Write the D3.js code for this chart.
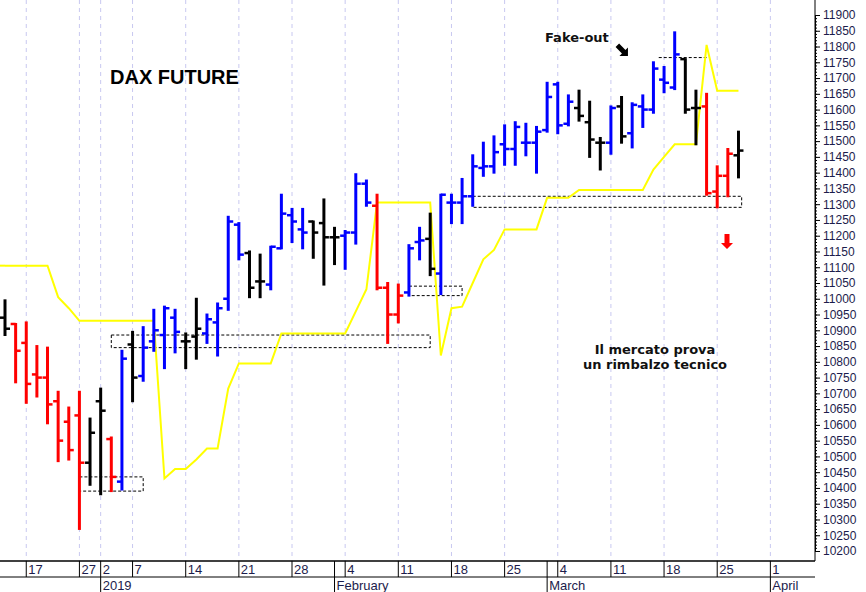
<!DOCTYPE html>
<html><head><meta charset="utf-8">
<script src="https://cdn.jsdelivr.net/npm/d3@7"></script>
<style>body{margin:0;background:#fff}svg{display:block}</style>
</head><body><svg id="c" width="866" height="592"></svg>
<script>
// OHLC data, one entry per trading day (index 0 = 13 Dec 2018)
const opens  = [10940,10920,10860,10760,10750,10675,10610,10630,10480,10675,10555,10420,10855,10755,10865,10885,10940,10865,10880,10890,10925,11000,11235,11145,11055,11045,11160,11265,11220,11245,11240,11195,11200,11210,11365,11295,11035,10950,11020,11180,11190,11080,11305,11305,11325,11415,11420,11490,11475,11495,11495,11535,11680,11555,11605,11560,11495,11495,11610,11525,11610,11600,11695,11670,11760,11605,11610,11340,11390,11455];
const highs  = [10995,10920,10925,10850,10845,10705,10655,10705,10620,10715,10560,10835,10895,10910,10965,10975,10965,10890,11000,10950,10985,11260,11240,11150,11140,11165,11330,11285,11285,11245,11315,11225,11215,11395,11375,11330,11050,11045,11170,11225,11270,11330,11330,11380,11455,11495,11515,11550,11560,11555,11545,11685,11685,11645,11660,11625,11510,11610,11640,11620,11645,11750,11735,11845,11760,11660,11650,11420,11475,11530];
const lows   = [10885,10735,10670,10690,10605,10485,10490,10270,10410,10380,10390,10395,10675,10740,10835,10780,10830,10780,10810,10860,10820,10965,11125,11005,11005,11030,11160,11180,11160,11130,11045,11110,11095,11175,11295,11030,10860,10925,11010,11125,11075,11015,11240,11240,11295,11390,11400,11425,11425,11455,11400,11530,11525,11550,11565,11450,11410,11460,11495,11480,11545,11590,11655,11665,11590,11490,11330,11290,11325,11385];
const closes = [10905,10835,10730,10750,10665,10550,10520,10480,10575,10645,10435,10810,10750,10845,10900,10970,10895,10865,10905,10935,10970,11245,11140,11035,11055,11165,11270,11245,11210,11210,11195,11195,11210,11365,11305,11035,10950,11010,11160,11185,11095,11330,11305,11325,11420,11420,11465,11475,11545,11495,11530,11640,11550,11625,11580,11505,11495,11605,11515,11615,11600,11730,11685,11775,11600,11605,11335,11390,11460,11470];
const barColors = "krrrrrrrkkrbkbbbbkkbbbbkkbbbbkkkbbbrrrbbkbbbbbbbbbbbbbkkkbkbbbbbkkrrrk";
// yellow trailing line, one value per trading day
const yellow = [11105,11105,11105,11105,11105,11005,10970,10930,10930,10930,10930,10930,10930,10930,10930,10430,10460,10460,10490,10525,10525,10715,10795,10795,10795,10795,10890,10890,10890,10890,10890,10890,10890,10960,11030,11305,11305,11305,11305,11305,11305,10820,10970,10975,11050,11125,11155,11220,11220,11220,11220,11320,11320,11320,11345,11345,11345,11345,11345,11345,11345,11410,11450,11490,11490,11490,11805,11660,11660,11660];
// date axis ticks [trading-day index, label]
const dayTicks = [[2,"17"],[7,"27"],[9,"2"],[12,"7"],[17,"14"],[22,"21"],[27,"28"],[32,"4"],[37,"11"],[42,"18"],[47,"25"],[52,"4"],[57,"11"],[62,"18"],[67,"25"],[72,"1"]];
const monthTicks = [[9,"2019"],[31,"February"],[51,"March"],[72,"April"]];
// dashed boxes [startIdx, endIdx, top, bottom]
const boxes = [[7,13,10435,10390],[10,40,10885,10845],[38,43,11040,11010],[44,69.3,11325,11290]];
const fakeLine = [61.5,66,11765];
const priceTicks = d3.range(10200, 11901, 50);

const svg = d3.select("#c");
const W = 866, plotR = 815, plotB = 561;
const x = d3.scaleLinear().domain([0,72]).range([5, 5+72*10.63]);
const y = d3.scaleLinear().domain([10200,11900]).range([551,15]);
const colMap = {k:"#000", r:"#ff0000", b:"#0000ff"};

// gridlines
svg.append("g").selectAll("line").data(dayTicks).join("line")
  .attr("x1",d=>x(d[0])).attr("x2",d=>x(d[0])).attr("y1",0).attr("y2",plotB)
  .attr("stroke","#c8c8f0").attr("stroke-dasharray","4,4").attr("stroke-width",1);

// boxes
svg.append("g").selectAll("rect").data(boxes).join("rect")
  .attr("x",d=>x(d[0])).attr("width",d=>x(d[1])-x(d[0]))
  .attr("y",d=>y(d[2])).attr("height",d=>y(d[3])-y(d[2]))
  .attr("fill","none").attr("stroke","#000").attr("stroke-dasharray","3,2").attr("stroke-width",1);
svg.append("line").attr("x1",x(fakeLine[0])).attr("x2",x(fakeLine[1])).attr("y1",y(fakeLine[2])).attr("y2",y(fakeLine[2]))
  .attr("stroke","#000").attr("stroke-dasharray","3,2");

// yellow line
const ydata = yellow.map((v,i)=>[i,v]);
svg.append("path").datum(ydata)
  .attr("d", d3.line().x(d=>x(d[0])).y(d=>y(d[1])))
  .attr("fill","none").attr("stroke","#ffff00").attr("stroke-width",2);
// yellow leading flat segment to left edge
svg.append("line").attr("x1",0).attr("x2",x(0)).attr("y1",y(yellow[0])).attr("y2",y(yellow[0]))
  .attr("stroke","#ffff00").attr("stroke-width",2);

// OHLC bars
const bars = svg.append("g");
opens.forEach((o,i)=>{
  const c = colMap[barColors[i]], cx = x(i);
  const g = bars.append("g").attr("stroke",c).attr("stroke-width",3);
  g.append("line").attr("x1",cx).attr("x2",cx).attr("y1",y(highs[i])-1).attr("y2",y(lows[i])+1);
  g.append("line").attr("x1",cx-5).attr("x2",cx).attr("y1",y(o)).attr("y2",y(o)).attr("stroke-width",2.5);
  g.append("line").attr("x1",cx).attr("x2",cx+5).attr("y1",y(closes[i])).attr("y2",y(closes[i])).attr("stroke-width",2.5);
});

// right axis
const ax = svg.append("g").attr("transform",`translate(${plotR},0)`)
  .call(d3.axisRight(y).tickValues(priceTicks).tickSize(5).tickPadding(3).tickFormat(d3.format("d")));
ax.select(".domain").attr("stroke","#000");
ax.selectAll("text").attr("font-family","Liberation Sans Narrow, Arial Narrow, Liberation Sans, sans-serif").attr("font-size",12).attr("fill","#1c1c4c");
svg.append("g").attr("transform",`translate(${plotR},0)`)
  .call(d3.axisRight(y).ticks(170).tickSize(2).tickFormat(""))
  .select(".domain").remove();
svg.append("line").attr("x1",plotR).attr("x2",plotR).attr("y1",0).attr("y2",plotB).attr("stroke","#000");

// bottom axis
svg.append("line").attr("x1",0).attr("x2",plotR).attr("y1",plotB).attr("y2",plotB).attr("stroke","#000").attr("stroke-width",1.5);
svg.append("line").attr("x1",0).attr("x2",plotR).attr("y1",577).attr("y2",577).attr("stroke","#000");
const tf = "Liberation Sans Narrow, Arial Narrow, Liberation Sans, sans-serif";
const dt = svg.append("g").selectAll("g").data(dayTicks).join("g").attr("transform",d=>`translate(${x(d[0])},0)`);
dt.append("line").attr("y1",plotB).attr("y2",577).attr("stroke","#000");
dt.append("text").attr("x",2).attr("y",574).text(d=>d[1]).attr("font-family",tf).attr("font-size",13).attr("fill","#1c1c4c");
svg.append("line").attr("x1",x(31)).attr("x2",x(31)).attr("y1",plotB).attr("y2",577).attr("stroke","#000");
svg.append("line").attr("x1",x(51)).attr("x2",x(51)).attr("y1",plotB).attr("y2",577).attr("stroke","#000");
const mt = svg.append("g").selectAll("g").data(monthTicks).join("g").attr("transform",d=>`translate(${x(d[0])},0)`);
mt.append("line").attr("y1",577).attr("y2",592).attr("stroke","#000");
mt.append("text").attr("x",2).attr("y",590).text(d=>d[1]).attr("font-family",tf).attr("font-size",13).attr("fill","#1c1c4c");

// annotations
const af = "Verdana, DejaVu Sans, sans-serif";
svg.append("text").attr("x",110).attr("y",84).text("DAX FUTURE").attr("font-family","Liberation Sans, Arial, sans-serif").attr("font-weight","bold").attr("font-size",20).attr("fill","#000");
svg.append("text").attr("x",545).attr("y",42).text("Fake-out").attr("font-family",af).attr("font-weight","bold").attr("font-size",13).attr("fill","#111");
svg.append("text").attr("x",655).attr("y",354).attr("text-anchor","middle").text("Il mercato prova").attr("font-family",af).attr("font-weight","bold").attr("font-size",13).attr("fill","#111");
svg.append("text").attr("x",655).attr("y",369).attr("text-anchor","middle").text("un rimbalzo tecnico").attr("font-family",af).attr("font-weight","bold").attr("font-size",13).attr("fill","#111");
// black arrow (down-right)
svg.append("g").attr("transform","translate(623,51) rotate(45)")
  .append("path").attr("d","M-8,-2.5 L1,-2.5 L1,-6 L7,0 L1,6 L1,2.5 L-8,2.5 Z").attr("fill","#000");
// red arrow (down)
svg.append("g").attr("transform","translate(727,242) rotate(90)")
  .append("path").attr("d","M-8,-2.5 L1,-2.5 L1,-6 L7,0 L1,6 L1,2.5 L-8,2.5 Z").attr("fill","#ff0000");
</script></body></html>
